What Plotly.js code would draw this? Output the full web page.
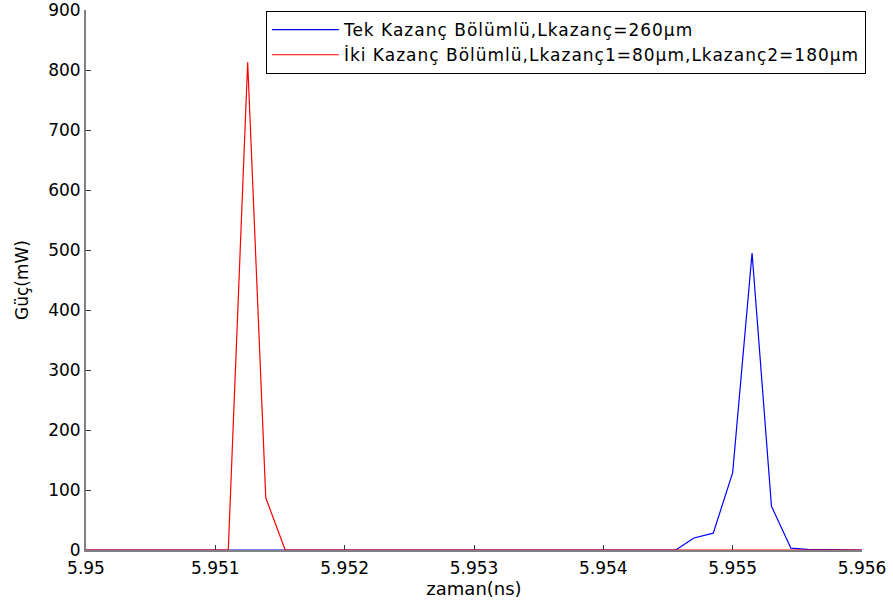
<!DOCTYPE html>
<html>
<head>
<meta charset="utf-8">
<script src="https://cdn.plot.ly/plotly-3.0.1.min.js"></script>
<style>html,body{margin:0;padding:0;background:#fff;}#chart{width:893px;height:606px;}
.legendtext{letter-spacing:1px;}</style>
</head>
<body>
<div id="chart"></div>
<script>
// Tek Kazanç Bölümlü (blue)
const tekTime  = [5.950, 5.95456, 5.95470, 5.95485, 5.95500, 5.95515, 5.95530, 5.95545, 5.95558, 5.956];
const tekPower = [0, 0, 20, 28, 129, 495, 73, 3, 1, 0];
// İki Kazanç Bölümlü (red)
const ikiTime  = [5.950, 5.95110, 5.95125, 5.95139, 5.95154, 5.956];
const ikiPower = [0, 0, 813, 87, 0, 0];

const names = ["Tek Kazanç Bölümlü,Lkazanç=260μm", "İki Kazanç Bölümlü,Lkazanç1=80μm,Lkazanç2=180μm"];
const yTicks = [0,100,200,300,400,500,600,700,800,900];
const xTicks = [5.95,5.951,5.952,5.953,5.954,5.955,5.956];
const xTickText = ["5.95","5.951","5.952","5.953","5.954","5.955","5.956"];

const font = "DejaVu Sans, Verdana, sans-serif";
const traces = [
  {x: tekTime, y: tekPower, name: names[0], mode: "lines", line: {color: "#0000ff", width: 1.2}},
  {x: ikiTime, y: ikiPower, name: names[1], mode: "lines", line: {color: "#ff0000", width: 1.2}}
];
const layout = {
  width: 893, height: 606,
  margin: {l: 86, r: 31, t: 10, b: 56},
  paper_bgcolor: "#fff", plot_bgcolor: "#fff",
  font: {family: font, size: 16, color: "#000"},
  showlegend: true,
  legend: {x: 1.005, xanchor: "right", y: 0.998, yanchor: "top", bordercolor: "#000", borderwidth: 1,
           bgcolor: "#fff", font: {family: font, size: 17}, tracegroupgap: 0, itemwidth: 67},
  xaxis: {range: [5.95, 5.956], tickvals: xTicks, ticktext: xTickText, showgrid: false, zeroline: false,
          showline: true, linecolor: "#808080", linewidth: 2, ticks: "inside", ticklen: 5, tickcolor: "#333",
          tickfont: {family: font, size: 17}, ticklabeloverflow: "allow", ticklabelstandoff: 2,
          title: {text: "zaman(ns)", font: {family: font, size: 18}, standoff: 4}},
  yaxis: {range: [0, 900], tickvals: yTicks, showgrid: false, zeroline: false,
          showline: true, linecolor: "#808080", linewidth: 2, ticks: "inside", ticklen: 5, tickcolor: "#333",
          tickfont: {family: font, size: 17}, ticklabeloverflow: "allow",
          title: {text: "Güç(mW)", font: {family: font, size: 17}, standoff: 15}}
};
Plotly.newPlot("chart", traces, layout, {displayModeBar: false, staticPlot: true});
</script>
</body>
</html>
